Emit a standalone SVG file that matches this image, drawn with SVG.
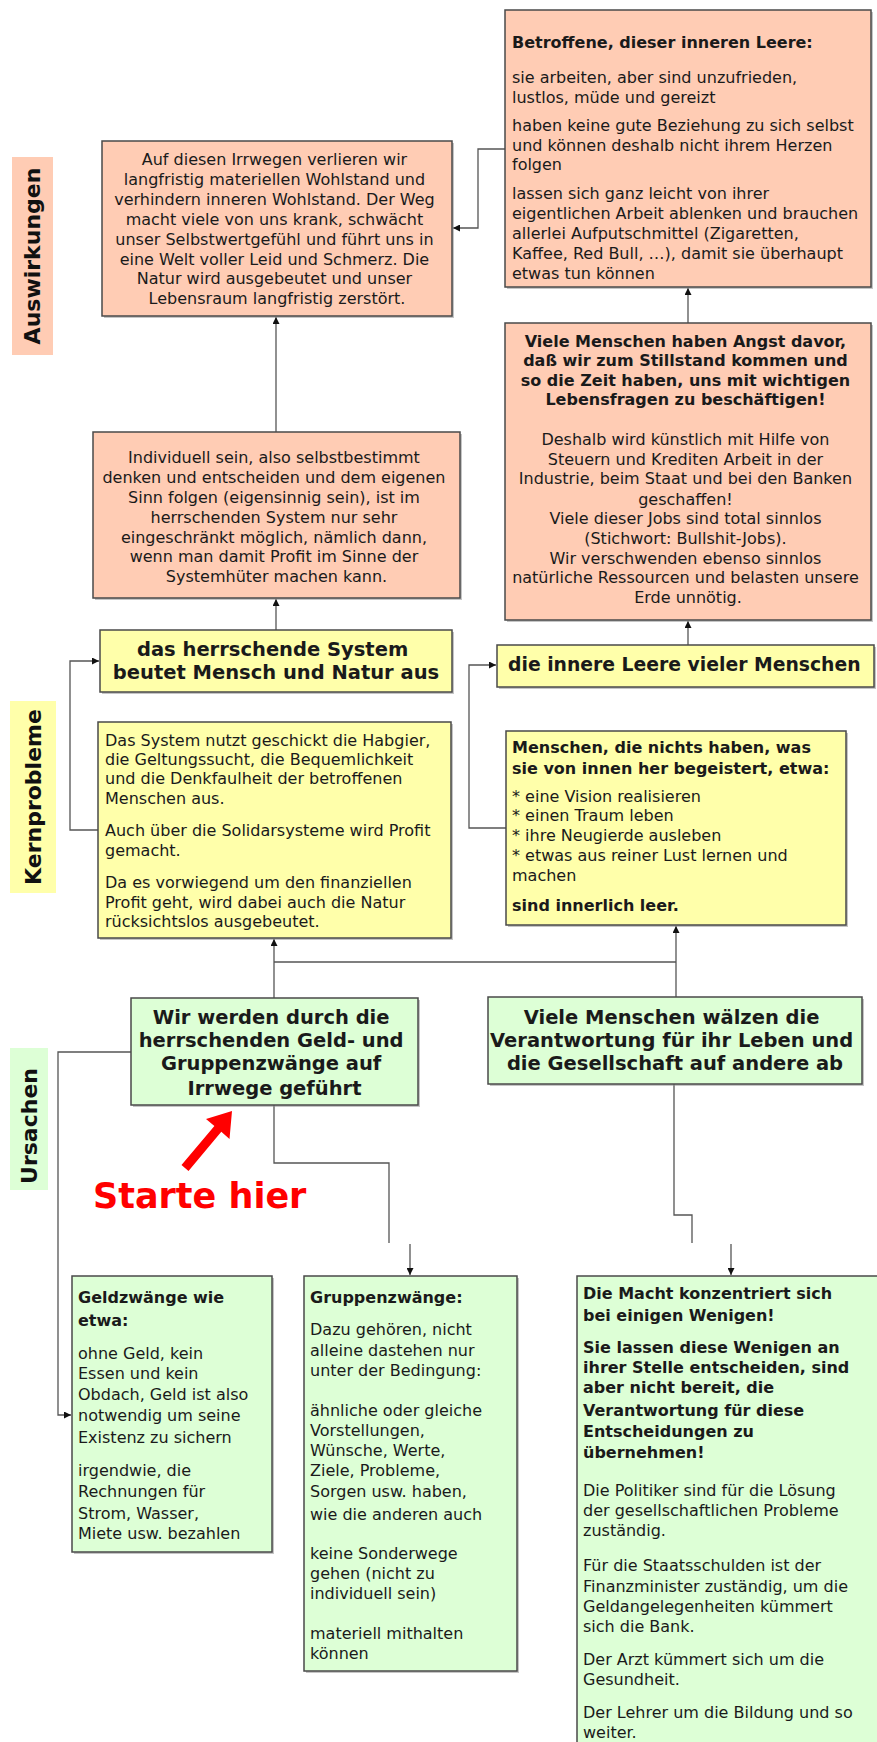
<svg xmlns="http://www.w3.org/2000/svg" width="877" height="1742" viewBox="0 0 877 1742">
  <style>
    .box{stroke:#4a4a4a;stroke-width:1.5}
    .sh{fill:#8c8c8c;opacity:.5}
    .sal{fill:#ffccb4}
    .yel{fill:#ffffaa}
    .grn{fill:#ddffd6}
    .t{font-family:"DejaVu Sans",Verdana,sans-serif;font-size:16px;fill:#1a1a1a}
    .b{font-weight:bold}
    .c{text-anchor:middle}
    .h{font-size:19.5px;font-weight:bold}
    .lab{font-family:"DejaVu Sans",Verdana,sans-serif;font-size:22px;font-weight:bold;fill:#111;text-anchor:middle}
    .ln{fill:none;stroke:#555;stroke-width:1.3}
  </style>
  <defs>
    <marker id="ah" markerWidth="7" markerHeight="7" refX="7" refY="3.5" orient="auto" markerUnits="userSpaceOnUse">
      <path d="M0,0 L7,3.5 L0,7 z" fill="#111"/>
    </marker>
  </defs>
  <rect width="877" height="1742" fill="#fff"/>

  <!-- row labels -->
  <g id="label-auswirkungen">
    <rect x="12" y="157" width="41" height="198" class="sal"/>
    <text class="lab" transform="translate(40,256) rotate(-90)">Auswirkungen</text>
  </g>
  <g id="label-kernprobleme">
    <rect x="10" y="701" width="46" height="192" class="yel"/>
    <text class="lab" transform="translate(41,797) rotate(-90)">Kernprobleme</text>
  </g>
  <g id="label-ursachen">
    <rect x="10" y="1048" width="38" height="142" class="grn"/>
    <text class="lab" transform="translate(37,1126) rotate(-90)">Ursachen</text>
  </g>

  <!-- connectors -->
  <g id="connectors">
    <polyline class="ln" points="505,149 478,149 478,228 453,228" marker-end="url(#ah)"/>
    <line class="ln" x1="688" y1="323" x2="688" y2="288" marker-end="url(#ah)"/>
    <line class="ln" x1="276" y1="432" x2="276" y2="317" marker-end="url(#ah)"/>
    <line class="ln" x1="276" y1="630" x2="276" y2="599" marker-end="url(#ah)"/>
    <line class="ln" x1="688" y1="645" x2="688" y2="621" marker-end="url(#ah)"/>
    <polyline class="ln" points="98,830 70,830 70,661 99,661" marker-end="url(#ah)"/>
    <polyline class="ln" points="506,828 469,828 469,665 496,665" marker-end="url(#ah)"/>
    <line class="ln" x1="274" y1="998" x2="274" y2="939" marker-end="url(#ah)"/>
    <line class="ln" x1="274" y1="962" x2="676" y2="962" stroke-width="2"/>
    <line class="ln" x1="676" y1="997" x2="676" y2="926" marker-end="url(#ah)"/>
    <polyline class="ln" points="131,1052 58,1052 58,1415 71,1415" marker-end="url(#ah)"/>
    <polyline class="ln" points="274,1105 274,1163 389,1163 389,1243"/>
    <line class="ln" x1="410" y1="1244" x2="410" y2="1275" marker-end="url(#ah)"/>
    <polyline class="ln" points="674,1084 674,1215 692,1215 692,1243"/>
    <line class="ln" x1="731" y1="1244" x2="731" y2="1275" marker-end="url(#ah)"/>
  </g>

  <!-- Auswirkungen -->
  <g id="n-betroffene">
    <rect x="507" y="12" width="366" height="277" class="sh"/>
    <rect x="505" y="10" width="366" height="277" class="box sal"/>
    <text class="t">
      <tspan class="b" x="512" y="48">Betroffene, dieser inneren Leere:</tspan>
      <tspan x="512" y="83">sie arbeiten, aber sind unzufrieden,</tspan>
      <tspan x="512" y="103">lustlos, müde und gereizt</tspan>
      <tspan x="512" y="131">haben keine gute Beziehung zu sich selbst</tspan>
      <tspan x="512" y="151">und können deshalb nicht ihrem Herzen</tspan>
      <tspan x="512" y="170">folgen</tspan>
      <tspan x="512" y="199">lassen sich ganz leicht von ihrer</tspan>
      <tspan x="512" y="219">eigentlichen Arbeit ablenken und brauchen</tspan>
      <tspan x="512" y="239">allerlei Aufputschmittel (Zigaretten,</tspan>
      <tspan x="512" y="259">Kaffee, Red Bull, …), damit sie überhaupt</tspan>
      <tspan x="512" y="279">etwas tun können</tspan>
    </text>
  </g>
  <g id="n-irrwege">
    <rect x="104" y="143" width="350" height="175" class="sh"/>
    <rect x="102" y="141" width="350" height="175" class="box sal"/>
    <text class="t c">
      <tspan x="277" y="165">Auf diesen Irrwegen verlieren wir</tspan>
      <tspan x="277" y="185">langfristig materiellen Wohlstand und</tspan>
      <tspan x="277" y="205">verhindern inneren Wohlstand. Der Weg</tspan>
      <tspan x="277" y="225">macht viele von uns krank, schwächt</tspan>
      <tspan x="277" y="245">unser Selbstwertgefühl und führt uns in</tspan>
      <tspan x="277" y="265">eine Welt voller Leid und Schmerz. Die</tspan>
      <tspan x="277" y="284">Natur wird ausgebeutet und unser</tspan>
      <tspan x="277" y="304">Lebensraum langfristig zerstört.</tspan>
    </text>
  </g>
  <g id="n-angst">
    <rect x="507" y="325" width="366" height="297" class="sh"/>
    <rect x="505" y="323" width="366" height="297" class="box sal"/>
    <text class="t c">
      <tspan class="b" x="688" y="347">Viele Menschen haben Angst davor,</tspan>
      <tspan class="b" x="688" y="366">daß wir zum Stillstand kommen und</tspan>
      <tspan class="b" x="688" y="386">so die Zeit haben, uns mit wichtigen</tspan>
      <tspan class="b" x="688" y="405">Lebensfragen zu beschäftigen!</tspan>
      <tspan x="688" y="445">Deshalb wird künstlich mit Hilfe von</tspan>
      <tspan x="688" y="465">Steuern und Krediten Arbeit in der</tspan>
      <tspan x="688" y="484">Industrie, beim Staat und bei den Banken</tspan>
      <tspan x="688" y="505">geschaffen!</tspan>
      <tspan x="688" y="524">Viele dieser Jobs sind total sinnlos</tspan>
      <tspan x="688" y="544">(Stichwort: Bullshit-Jobs).</tspan>
      <tspan x="688" y="564">Wir verschwenden ebenso sinnlos</tspan>
      <tspan x="688" y="583">natürliche Ressourcen und belasten unsere</tspan>
      <tspan x="688" y="603">Erde unnötig.</tspan>
    </text>
  </g>
  <g id="n-individuell">
    <rect x="95" y="434" width="367" height="166" class="sh"/>
    <rect x="93" y="432" width="367" height="166" class="box sal"/>
    <text class="t c">
      <tspan x="276.5" y="463">Individuell sein, also selbstbestimmt</tspan>
      <tspan x="276.5" y="483">denken und entscheiden und dem eigenen</tspan>
      <tspan x="276.5" y="503">Sinn folgen (eigensinnig sein), ist im</tspan>
      <tspan x="276.5" y="523">herrschenden System nur sehr</tspan>
      <tspan x="276.5" y="543">eingeschränkt möglich, nämlich dann,</tspan>
      <tspan x="276.5" y="562">wenn man damit Profit im Sinne der</tspan>
      <tspan x="276.5" y="582">Systemhüter machen kann.</tspan>
    </text>
  </g>

  <!-- Kernprobleme -->
  <g id="n-system">
    <rect x="102" y="632" width="352" height="62" class="sh"/>
    <rect x="100" y="630" width="352" height="62" class="box yel"/>
    <text class="t h c">
      <tspan x="276" y="656">das herrschende System</tspan>
      <tspan x="276" y="679">beutet Mensch und Natur aus</tspan>
    </text>
  </g>
  <g id="n-leere">
    <rect x="499" y="647" width="377" height="42" class="sh"/>
    <rect x="497" y="645" width="377" height="42" class="box yel"/>
    <text class="t h" x="508" y="671" style="font-size:18.8px">die innere Leere vieler Menschen</text>
  </g>
  <g id="n-habgier">
    <rect x="100" y="724" width="353" height="216" class="sh"/>
    <rect x="98" y="722" width="353" height="216" class="box yel"/>
    <text class="t">
      <tspan x="105" y="746">Das System nutzt geschickt die Habgier,</tspan>
      <tspan x="105" y="765">die Geltungssucht, die Bequemlichkeit</tspan>
      <tspan x="105" y="784">und die Denkfaulheit der betroffenen</tspan>
      <tspan x="105" y="804">Menschen aus.</tspan>
      <tspan x="105" y="836">Auch über die Solidarsysteme wird Profit</tspan>
      <tspan x="105" y="856">gemacht.</tspan>
      <tspan x="105" y="888">Da es vorwiegend um den finanziellen</tspan>
      <tspan x="105" y="908">Profit geht, wird dabei auch die Natur</tspan>
      <tspan x="105" y="927">rücksichtslos ausgebeutet.</tspan>
    </text>
  </g>
  <g id="n-menschen">
    <rect x="508" y="733" width="340" height="194" class="sh"/>
    <rect x="506" y="731" width="340" height="194" class="box yel"/>
    <text class="t">
      <tspan class="b" x="512" y="753">Menschen, die nichts haben, was</tspan>
      <tspan class="b" x="512" y="774">sie von innen her begeistert, etwa:</tspan>
      <tspan x="512" y="802">* eine Vision realisieren</tspan>
      <tspan x="512" y="821">* einen Traum leben</tspan>
      <tspan x="512" y="841">* ihre Neugierde ausleben</tspan>
      <tspan x="512" y="861">* etwas aus reiner Lust lernen und</tspan>
      <tspan x="512" y="881">machen</tspan>
      <tspan class="b" x="512" y="911">sind innerlich leer.</tspan>
    </text>
  </g>

  <!-- Ursachen -->
  <g id="n-zwaenge">
    <rect x="133" y="1000" width="287" height="107" class="sh"/>
    <rect x="131" y="998" width="287" height="107" class="box grn"/>
    <text class="t h c">
      <tspan x="274.5" y="1024">Wir werden durch die</tspan>
      <tspan x="274.5" y="1047">herrschenden Geld- und</tspan>
      <tspan x="274.5" y="1070">Gruppenzwänge auf</tspan>
      <tspan x="274.5" y="1095">Irrwege geführt</tspan>
    </text>
  </g>
  <g id="n-verantwortung">
    <rect x="490" y="999" width="374" height="87" class="sh"/>
    <rect x="488" y="997" width="374" height="87" class="box grn"/>
    <text class="t h c">
      <tspan x="675" y="1024">Viele Menschen wälzen die</tspan>
      <tspan x="675" y="1047">Verantwortung für ihr Leben und</tspan>
      <tspan x="675" y="1070">die Gesellschaft auf andere ab</tspan>
    </text>
  </g>
  <g id="n-geldzwaenge">
    <rect x="74" y="1278" width="200" height="276" class="sh"/>
    <rect x="72" y="1276" width="200" height="276" class="box grn"/>
    <text class="t">
      <tspan class="b" x="78" y="1303">Geldzwänge wie</tspan>
      <tspan class="b" x="78" y="1326">etwa:</tspan>
      <tspan x="78" y="1359">ohne Geld, kein</tspan>
      <tspan x="78" y="1379">Essen und kein</tspan>
      <tspan x="78" y="1400">Obdach, Geld ist also</tspan>
      <tspan x="78" y="1421">notwendig um seine</tspan>
      <tspan x="78" y="1443">Existenz zu sichern</tspan>
      <tspan x="78" y="1476">irgendwie, die</tspan>
      <tspan x="78" y="1497">Rechnungen für</tspan>
      <tspan x="78" y="1519">Strom, Wasser,</tspan>
      <tspan x="78" y="1539">Miete usw. bezahlen</tspan>
    </text>
  </g>
  <g id="n-gruppenzwaenge">
    <rect x="306" y="1278" width="213" height="395" class="sh"/>
    <rect x="304" y="1276" width="213" height="395" class="box grn"/>
    <text class="t">
      <tspan class="b" x="310" y="1303">Gruppenzwänge:</tspan>
      <tspan x="310" y="1335">Dazu gehören, nicht</tspan>
      <tspan x="310" y="1356">alleine dastehen nur</tspan>
      <tspan x="310" y="1376">unter der Bedingung:</tspan>
      <tspan x="310" y="1416">ähnliche oder gleiche</tspan>
      <tspan x="310" y="1436">Vorstellungen,</tspan>
      <tspan x="310" y="1456">Wünsche, Werte,</tspan>
      <tspan x="310" y="1476">Ziele, Probleme,</tspan>
      <tspan x="310" y="1497">Sorgen usw. haben,</tspan>
      <tspan x="310" y="1520">wie die anderen auch</tspan>
      <tspan x="310" y="1559">keine Sonderwege</tspan>
      <tspan x="310" y="1579">gehen (nicht zu</tspan>
      <tspan x="310" y="1599">individuell sein)</tspan>
      <tspan x="310" y="1639">materiell mithalten</tspan>
      <tspan x="310" y="1659">können</tspan>
    </text>
  </g>
  <g id="n-macht">
    <rect x="579" y="1278" width="310" height="480" class="sh"/>
    <rect x="577" y="1276" width="310" height="480" class="box grn"/>
    <text class="t">
      <tspan class="b" x="583" y="1299">Die Macht konzentriert sich</tspan>
      <tspan class="b" x="583" y="1321">bei einigen Wenigen!</tspan>
      <tspan class="b" x="583" y="1353">Sie lassen diese Wenigen an</tspan>
      <tspan class="b" x="583" y="1373">ihrer Stelle entscheiden, sind</tspan>
      <tspan class="b" x="583" y="1393">aber nicht bereit, die</tspan>
      <tspan class="b" x="583" y="1416">Verantwortung für diese</tspan>
      <tspan class="b" x="583" y="1437">Entscheidungen zu</tspan>
      <tspan class="b" x="583" y="1458">übernehmen!</tspan>
      <tspan x="583" y="1496">Die Politiker sind für die Lösung</tspan>
      <tspan x="583" y="1516">der gesellschaftlichen Probleme</tspan>
      <tspan x="583" y="1536">zuständig.</tspan>
      <tspan x="583" y="1571">Für die Staatsschulden ist der</tspan>
      <tspan x="583" y="1592">Finanzminister zuständig, um die</tspan>
      <tspan x="583" y="1612">Geldangelegenheiten kümmert</tspan>
      <tspan x="583" y="1632">sich die Bank.</tspan>
      <tspan x="583" y="1665">Der Arzt kümmert sich um die</tspan>
      <tspan x="583" y="1685">Gesundheit.</tspan>
      <tspan x="583" y="1718">Der Lehrer um die Bildung und so</tspan>
      <tspan x="583" y="1738">weiter.</tspan>
    </text>
  </g>

  <!-- start hint -->
  <g id="start-hint">
    <polygon points="181.5,1165.1 214.4,1126 206,1119 232,1111 229.5,1139 221.3,1131.8 188.5,1170.9" fill="#f00"/>
    <text x="93" y="1208" font-family="'DejaVu Sans',Verdana,sans-serif" font-size="35" font-weight="bold" fill="#f00">Starte hier</text>
  </g>
</svg>
